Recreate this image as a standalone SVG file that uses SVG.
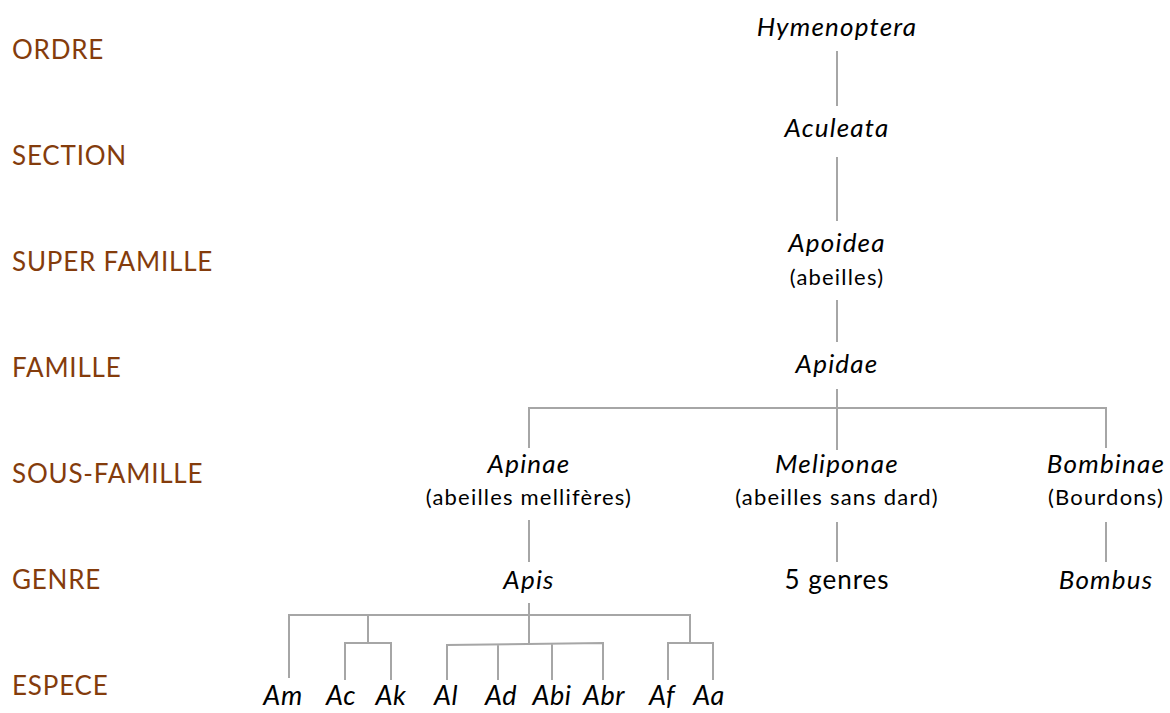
<svg xmlns="http://www.w3.org/2000/svg" width="1170" height="713" viewBox="0 0 1170 713">
<style>
.lvl{font-family:Lato,"Open Sans",sans-serif;font-size:26px;letter-spacing:0.8px;fill:#843c0c}
.n{font-family:Lato,"Open Sans",sans-serif;font-size:26px;letter-spacing:1.2px;font-style:italic;fill:#000;text-anchor:middle}
.sp{font-family:Lato,"Open Sans",sans-serif;font-size:27px;letter-spacing:0.5px;font-style:italic;fill:#000;text-anchor:middle}
.s{font-family:Lato,"Open Sans",sans-serif;font-size:22px;letter-spacing:1.2px;fill:#000;text-anchor:middle}
.g{font-family:Lato,"Open Sans",sans-serif;font-size:26px;letter-spacing:1px;fill:#000;text-anchor:middle}
.c{stroke:#a6a6a6;stroke-width:2;fill:none}
</style>
<rect width="1170" height="713" fill="#fff"/>
<g id="levels">
<text class="lvl" x="12" y="59">ORDRE</text>
<text class="lvl" x="12" y="165">SECTION</text>
<text class="lvl" x="12" y="271">SUPER FAMILLE</text>
<text class="lvl" x="12" y="377">FAMILLE</text>
<text class="lvl" x="12" y="483">SOUS-FAMILLE</text>
<text class="lvl" x="12" y="589">GENRE</text>
<text class="lvl" x="12" y="695">ESPECE</text>
</g>
<g id="connectors" class="c">
<path d="M837 51V106M837 157V221M837 300V342M837 389V450M529 448V408H1106V448"/>
<path d="M529 520V562M837 522V562M1106 522V562"/>
<path d="M529 603V643M289 678V615H690V643M368 615V643M345 680V643H391V680M447 680V645L603 643V680M498 680V644M552 680V643M668 680V643H713V680"/>
</g>
<g id="n-hymenoptera"><text class="n" x="837" y="36">Hymenoptera</text></g>
<g id="n-aculeata"><text class="n" x="837" y="137">Aculeata</text></g>
<g id="n-apoidea"><text class="n" x="837" y="252">Apoidea</text><text class="s" x="837" y="285">(abeilles)</text></g>
<g id="n-apidae"><text class="n" x="837" y="373">Apidae</text></g>
<g id="n-apinae"><text class="n" x="529" y="473">Apinae</text><text class="s" x="529" y="505">(abeilles mellifères)</text></g>
<g id="n-meliponae"><text class="n" x="837" y="473">Meliponae</text><text class="s" x="837" y="505">(abeilles sans dard)</text></g>
<g id="n-bombinae"><text class="n" x="1106" y="473">Bombinae</text><text class="s" x="1106" y="505">(Bourdons)</text></g>
<g id="n-apis"><text class="n" x="529" y="589">Apis</text></g>
<g id="n-5genres"><text class="g" x="837" y="589">5 genres</text></g>
<g id="n-bombus"><text class="n" x="1106" y="589">Bombus</text></g>
<g id="n-am"><text class="sp" x="283" y="705">Am</text></g>
<g id="n-ac"><text class="sp" x="341" y="705">Ac</text></g>
<g id="n-ak"><text class="sp" x="391" y="705">Ak</text></g>
<g id="n-al"><text class="sp" x="446" y="705">Al</text></g>
<g id="n-ad"><text class="sp" x="501" y="705">Ad</text></g>
<g id="n-abi"><text class="sp" x="552" y="705">Abi</text></g>
<g id="n-abr"><text class="sp" x="604" y="705">Abr</text></g>
<g id="n-af"><text class="sp" x="662" y="705">Af</text></g>
<g id="n-aa"><text class="sp" x="709" y="705">Aa</text></g>
</svg>
